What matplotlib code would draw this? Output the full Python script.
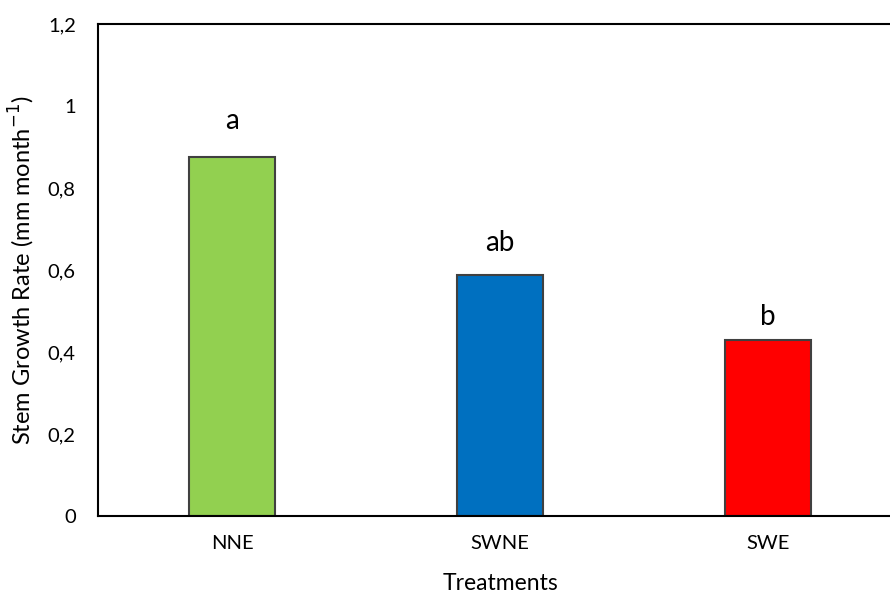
import matplotlib.pyplot as plt
from matplotlib.ticker import FuncFormatter

treatments = ['NNE', 'SWNE', 'SWE']
growth_rate = [0.876, 0.588, 0.429]
letters = ['a', 'ab', 'b']
letter_offset = [0.068, 0.058, 0.037]
colors = ['#92D050', '#0070C0', '#FF0000']

plt.rcParams['font.family'] = ['Lato', 'DejaVu Sans']

fig = plt.figure(figsize=(8.9, 5.96), dpi=100)
ax = fig.add_axes([98 / 890, 80 / 596, 804 / 890, 492 / 596])

x = range(len(treatments))
ax.bar(x, growth_rate, width=0.32, color=colors, edgecolor='#404040', linewidth=1.5, zorder=2)

# significance letters above bars
for i, (v, lab, off) in enumerate(zip(growth_rate, letters, letter_offset)):
    ax.text(i, v + off, lab, ha='center', va='baseline', fontsize=20)

ax.set_xlim(-0.5, 2.5)
ax.set_ylim(0, 1.2)
ax.set_yticks([0, 0.2, 0.4, 0.6, 0.8, 1.0, 1.2])
ax.yaxis.set_major_formatter(FuncFormatter(lambda v, p: f'{v:g}'.replace('.', ',')))
ax.set_xticks(list(x))
ax.set_xticklabels(treatments)
ax.tick_params(axis='both', length=0, labelsize=14.5)
ax.tick_params(axis='y', pad=16)
ax.tick_params(axis='x', pad=14)

for side in ['left', 'top', 'bottom']:
    ax.spines[side].set_linewidth(1.5)
    ax.spines[side].set_color('black')
ax.spines['right'].set_visible(False)

ax.set_xlabel('Treatments', fontsize=16.5, labelpad=15)
ax.set_ylabel('Stem Growth Rate (mm month$^{-1}$)', fontsize=17, labelpad=8)

fig.savefig('out.png', dpi=100)
